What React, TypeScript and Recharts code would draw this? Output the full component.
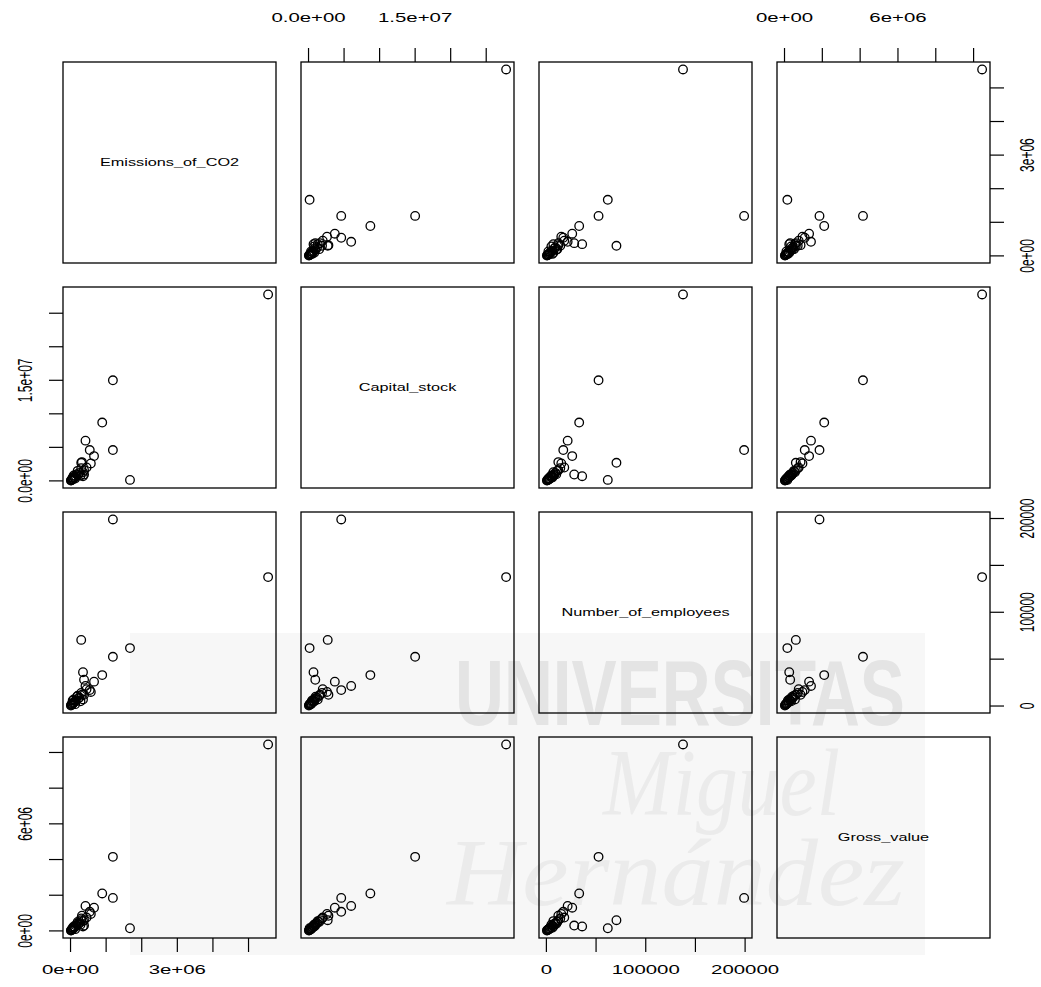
import { ScatterChart, Scatter, XAxis, YAxis } from "recharts";

// pairs() scatterplot matrix of four firm variables
const variables = ["Emissions_of_CO2", "Capital_stock", "Number_of_employees", "Gross_value"];

const co2 = [
  5550000, 1670000, 1190000, 1190000, 890000, 420000, 660000, 540000, 300000, 350000, 380000, 570000, 320000,
  450000, 380000, 300000, 250000, 220000, 180000, 150000, 120000, 100000, 80000, 70000, 50000, 40000, 30000,
  20000, 350000, 280000, 200000, 60000, 10000, 130000, 90000,
];
const capital = [
  27800000, 150000, 4600000, 15000000, 8700000, 6000000, 3700000, 4600000, 2700000, 700000, 950000, 2600000,
  2800000, 2000000, 1600000, 1900000, 1200000, 900000, 1000000, 700000, 500000, 600000, 400000, 300000, 250000,
  200000, 150000, 100000, 1300000, 800000, 1500000, 500000, 50000, 350000, 800000,
];
const employees = [
  137500, 61800, 199000, 52500, 33000, 21400, 26000, 17000, 70500, 36000, 28000, 15000, 12000, 18000, 12000,
  14000, 9000, 8000, 10000, 6000, 5000, 4000, 3500, 3000, 2500, 2000, 1500, 1000, 7000, 5000, 11000, 6000, 500,
  2000, 7000,
];
const grossValue = [
  10450000, 150000, 1850000, 4150000, 2100000, 1400000, 1300000, 1070000, 600000, 250000, 300000, 950000,
  850000, 750000, 600000, 700000, 450000, 380000, 400000, 300000, 220000, 200000, 150000, 120000, 100000, 80000,
  60000, 40000, 550000, 350000, 500000, 180000, 20000, 100000, 250000,
];

const co2Ticks = [0, 1e6, 2e6, 3e6, 4e6, 5e6];
const capitalTicks = [0, 5e6, 1e7, 1.5e7, 2e7, 2.5e7];
const employeeTicks = [0, 50000, 100000, 150000, 200000];
const grossTicks = [0, 2e6, 4e6, 6e6, 8e6, 1e7];

const co2Labels: Record<number, string> = { 0: "0e+00", 3000000: "3e+06" };
const capitalLabels: Record<number, string> = { 0: "0.0e+00", 15000000: "1.5e+07" };
const employeeLabels: Record<number, string> = { 0: "0", 100000: "100000", 200000: "200000" };
const grossLabels: Record<number, string> = { 0: "0e+00", 6000000: "6e+06" };

const series = [co2, capital, employees, grossValue];
const ticks = [co2Ticks, capitalTicks, employeeTicks, grossTicks];
const labels = [co2Labels, capitalLabels, employeeLabels, grossLabels];

const PANEL_X = [63, 301, 539, 777];
const PANEL_Y = [62, 287, 512, 737];
const PW = 213;
const PH = 201;
const MX = 60;
const MY = 50;
const TICK = 14;
const FONT = "'Liberation Sans', Arial, sans-serif";
const DIST = { top: 44, bottom: 32, left: 38, right: 37 };

function paddedDomain(values: number[]): [number, number] {
  const lo = Math.min(...values);
  const hi = Math.max(...values);
  const pad = (hi - lo) * 0.04;
  return [lo - pad, hi + pad];
}

function renderTick(p: any, side: "top" | "bottom" | "left" | "right", map: Record<number, string>) {
  const text = map[p.payload.value];
  if (!text) return <g />;
  const off = DIST[side] - TICK;
  let x = p.x;
  let y = p.y;
  if (side === "top") y -= off;
  if (side === "bottom") y += off;
  if (side === "left") x -= off;
  if (side === "right") x += off;
  const tf =
    side === "left" || side === "right"
      ? `translate(${x},${y}) rotate(-90) scale(1,1.7)`
      : `translate(${x},${y}) scale(1.7,1)`;
  return (
    <text transform={tf} textAnchor="middle" dominantBaseline="central" fontSize={12} fontFamily={FONT} fill="#000">
      {text}
    </text>
  );
}

const OpenCircle = (p: any) => <circle cx={p.cx} cy={p.cy} r={4.3} fill="none" stroke="#000" strokeWidth={1.3} />;

function Panel({ row, col }: { row: number; col: number }) {
  const showX = (col % 2 === 0 && row === 3) || (col % 2 === 1 && row === 0);
  const showY = (row % 2 === 0 && col === 3) || (row % 2 === 1 && col === 0);
  const xSide = col % 2 === 0 ? "bottom" : "top";
  const ySide = row % 2 === 0 ? "right" : "left";
  const margin = { top: MY, bottom: MY, left: MX, right: MX };
  if (showX) margin[xSide] = 0;
  if (showY) margin[ySide] = 0;
  const data = series[col].map((v, k) => ({ x: v, y: series[row][k] }));

  return (
    <div style={{ position: "absolute", left: PANEL_X[col] - MX, top: PANEL_Y[row] - MY }}>
      <ScatterChart width={PW + 2 * MX} height={PH + 2 * MY} margin={margin}>
        <XAxis
          type="number"
          dataKey="x"
          domain={paddedDomain(series[col])}
          allowDataOverflow
          ticks={ticks[col]}
          interval={0}
          orientation={xSide}
          height={MY}
          hide={!showX}
          axisLine={false}
          tickSize={TICK}
          tickMargin={0}
          tickLine={{ stroke: "#000", strokeWidth: 1.2 }}
          tick={(p: any) => renderTick(p, xSide, labels[col])}
        />
        <YAxis
          type="number"
          dataKey="y"
          domain={paddedDomain(series[row])}
          allowDataOverflow
          ticks={ticks[row]}
          interval={0}
          orientation={ySide}
          width={MX}
          hide={!showY}
          axisLine={false}
          tickSize={TICK}
          tickMargin={0}
          tickLine={{ stroke: "#000", strokeWidth: 1.2 }}
          tick={(p: any) => renderTick(p, ySide, labels[row])}
        />
        <Scatter data={data} shape={OpenCircle} isAnimationActive={false} />
      </ScatterChart>
    </div>
  );
}

function Watermark() {
  return (
    <svg width={1041} height={987} style={{ position: "absolute", left: 0, top: 0 }}>
      <rect x={130} y={633} width={795} height={322} fill="#f7f7f7" />
      <text x={455} y={725} fontSize={92} fontWeight="bold" fontFamily={FONT} fill="#e4e4e4" textLength={450} lengthAdjust="spacingAndGlyphs">
        UNIVERSITAS
      </text>
      <text x={603} y={815} fontSize={95} fontStyle="italic" fontFamily="'Liberation Serif', serif" fill="#ebebeb" textLength={237} lengthAdjust="spacingAndGlyphs">
        Miguel
      </text>
      <text x={447} y={905} fontSize={95} fontStyle="italic" fontFamily="'Liberation Serif', serif" fill="#ebebeb" textLength={458} lengthAdjust="spacingAndGlyphs">
        Hernández
      </text>
    </svg>
  );
}

function Frames() {
  return (
    <svg width={1041} height={987} style={{ position: "absolute", left: 0, top: 0, pointerEvents: "none" }}>
      {PANEL_Y.map((y, r) =>
        PANEL_X.map((x, c) => (
          <rect key={`${r}-${c}`} x={x} y={y} width={PW} height={PH} fill="none" stroke="#000" strokeWidth={1.3} />
        ))
      )}
      {variables.map((name, k) => (
        <text
          key={name}
          transform={`translate(${PANEL_X[k] + PW / 2},${PANEL_Y[k] + PH / 2}) scale(1.55,1)`}
          textAnchor="middle"
          dominantBaseline="central"
          fontSize={10.5}
          fontFamily={FONT}
          fill="#000"
        >
          {name}
        </text>
      ))}
    </svg>
  );
}

export default function App() {
  const cells = [];
  for (let r = 0; r < 4; r++) {
    for (let c = 0; c < 4; c++) {
      if (r !== c) cells.push(<Panel key={`${r}-${c}`} row={r} col={c} />);
    }
  }
  return (
    <div style={{ position: "absolute", left: 0, top: 0, width: 1041, height: 987, background: "#fff", overflow: "hidden" }}>
      <Watermark />
      {cells}
      <Frames />
    </div>
  );
}
